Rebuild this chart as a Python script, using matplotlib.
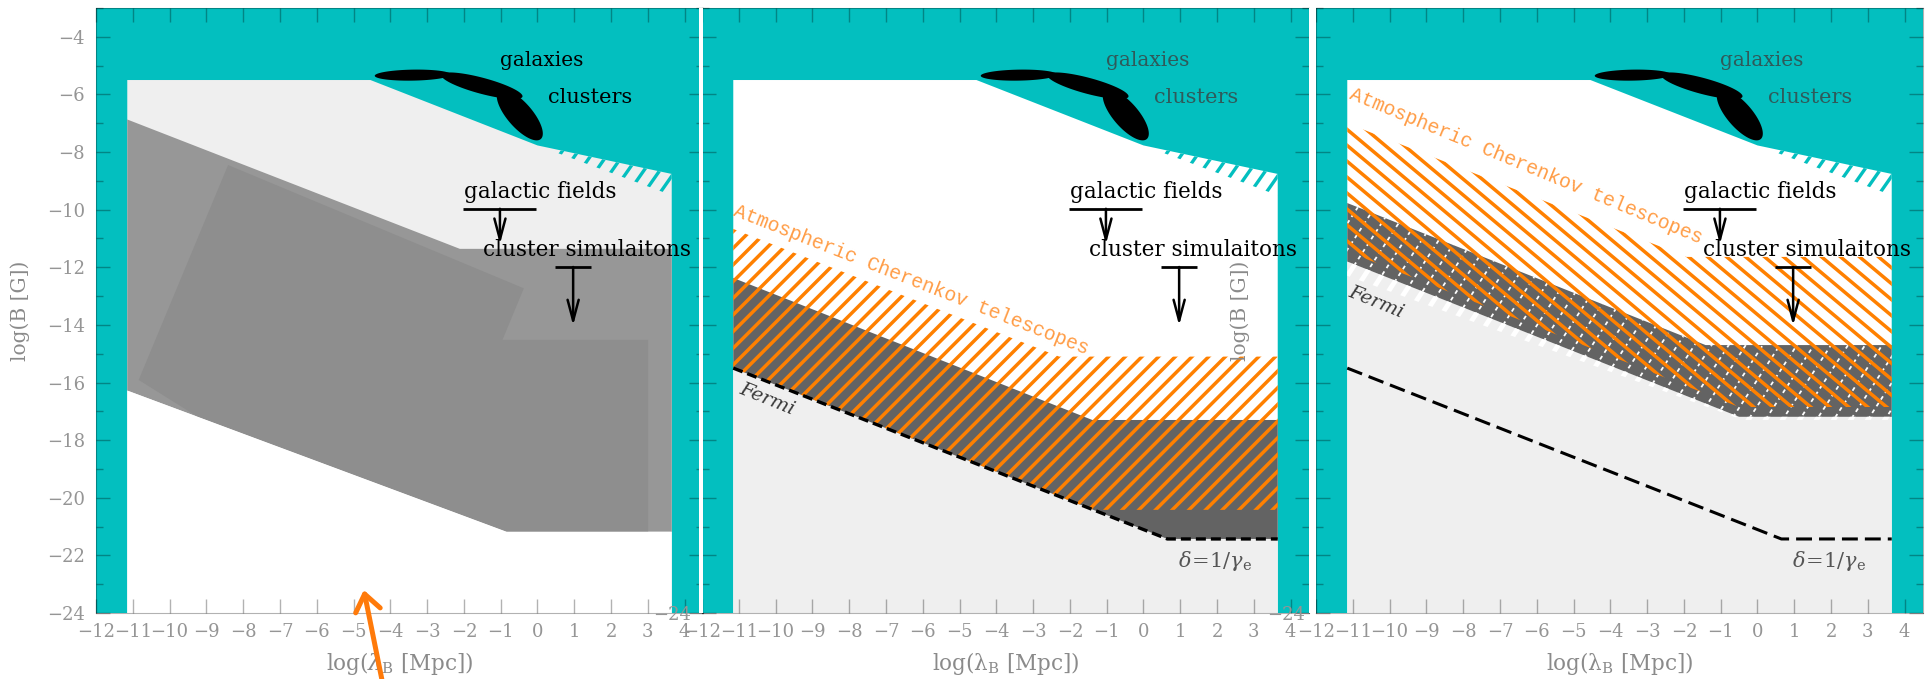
import numpy as np
import matplotlib
matplotlib.use("Agg")
import matplotlib.pyplot as plt
from matplotlib.patches import Polygon, Rectangle
from matplotlib.collections import LineCollection
from matplotlib.ticker import MultipleLocator, FuncFormatter

plt.rcParams['font.family'] = 'DejaVu Serif'
plt.rcParams['mathtext.fontset'] = 'dejavuserif'

# colours
TEAL = '#03bfbf'
LIGHT = '#efefef'
DARK = '#636363'
ORANGE = '#ff8000'
ORANGE_TXT = '#ff9c45'
TICK = (0, 0, 0, 0.3)

# axes ranges: log(lambda_B [Mpc]) vs log(B [G])
XLIM = (-12, 4.5)
YLIM = (-24, -3)

# figure geometry in pixels
FIG_W, FIG_H = 1925, 679
AX_TOP, AX_BOT = 8, 613
AX_W = 607
PANEL_X0 = [96, 702, 1316]
SX = AX_W / (XLIM[1] - XLIM[0])
SY = (AX_BOT - AX_TOP) / (YLIM[1] - YLIM[0])

# ---- shared outline (allowed region, teal = excluded) ----
inner_x = [-11.15, -4.54, 0.0, 3.65, 3.65, -11.15]
inner_y = [-5.5, -5.5, -7.77, -8.76, -24.0, -24.0]
teal_hatch_x = [0.37, 3.65, 3.65, 0.37]
teal_hatch_y = [-7.87, -8.76, -9.5, -7.95]

# black blobs (galaxies / clusters)
blob_cx = [-3.39, -1.51, -0.48]
blob_cy = [-5.33, -5.70, -6.71]
blob_len = [76, 84, 64]
blob_wid = [11, 16, 25]
blob_ang = [1, -15, -49]

# upper limits
gal_line_x = [-2.02, -0.05]
gal_line_y = [-9.97, -9.97]
gal_arrow = (-1.02, -9.97, -11.2)
clu_line_x = [0.47, 1.46]
clu_line_y = [-11.99, -11.99]
clu_arrow = (0.97, -11.99, -14.02)

# ---- left panel ----
grey_x = [-11.15, -2.11, 3.65, 3.65, -0.84, -11.15]
grey_y = [-6.87, -11.36, -11.36, -21.18, -21.18, -16.28]
shade_x = [-8.41, -0.37, -0.95, 3.01, 3.01, -0.84, -9.25, -10.84]
shade_y = [-8.45, -12.73, -14.52, -14.52, -21.18, -21.18, -17.18, -15.91]
below_x = [-11.15, -0.84, 3.65, 3.65, -11.15]
below_y = [-16.28, -21.18, -21.18, -24.0, -24.0]
pointer_tip = (-4.72, -23.2)
pointer_tail = (-4.23, -26.3)

# ---- middle panel ----
fermi_x = [-11.15, 0.65, 3.65]
fermi_y = [-15.5, -21.43, -21.43]
band_top_x = [-11.15, -1.39, 3.65]
band_top_y = [-12.37, -17.3, -17.3]
act_top_x = [-11.15, -2.29, 3.65]
act_top_y = [-10.67, -15.1, -15.1]
act_bot_x = [3.65, -1.37, -11.15]
act_bot_y = [-20.42, -20.42, -15.5]

# ---- right panel ----
band2_top_x = [-11.15, -1.41, 3.65]
band2_top_y = [-9.77, -14.7, -14.7]
band2_bot_x = [3.65, -0.5, -11.15]
band2_bot_y = [-17.19, -17.19, -11.8]
strip_bot_x = [3.65, -0.4, -11.15]
strip_bot_y = [-17.3, -17.3, -12.3]
act2_top_x = [-11.15, -1.93, 3.65]
act2_top_y = [-7.0, -11.64, -11.64]
act2_bot_x = [3.65, -0.5, -11.15]
act2_bot_y = [-16.85, -16.85, -11.45]


def poly(ax, xs, ys, color, z=1):
    p = Polygon(np.column_stack([xs, ys]), closed=True, fc=color, ec='none', lw=0, zorder=z)
    ax.add_patch(p)
    return p


def hatch(ax, xs, ys, angle, gap, color, lw, dashes=None, z=3):
    clip = Polygon(np.column_stack([xs, ys]), closed=True, fc='none', ec='none', lw=0)
    ax.add_patch(clip)
    px = (np.asarray(xs) - XLIM[0]) * SX
    py = (np.asarray(ys) - YLIM[0]) * SY
    a = np.radians(angle)
    d = np.array([np.cos(a), np.sin(a)])
    n = np.array([-np.sin(a), np.cos(a)])
    pn = px * n[0] + py * n[1]
    pd = px * d[0] + py * d[1]
    segs = []
    for o in np.arange(np.floor(pn.min() / gap) * gap, pn.max() + gap, gap):
        p0 = o * n + pd.min() * d
        p1 = o * n + pd.max() * d
        segs.append([(p0[0] / SX + XLIM[0], p0[1] / SY + YLIM[0]),
                     (p1[0] / SX + XLIM[0], p1[1] / SY + YLIM[0])])
    lc = LineCollection(segs, colors=color, linewidths=lw, zorder=z, capstyle='butt')
    if dashes:
        lc.set_linestyle((0, dashes))
    ax.add_collection(lc, autolim=False)
    lc.set_clip_path(clip)


def blob(ax, cx, cy, length, width, ang):
    t = np.linspace(0, 2 * np.pi, 120)
    a = np.radians(ang)
    u = length / 2 * np.cos(t)
    v = width / 2 * np.sin(t)
    dx = u * np.cos(a) - v * np.sin(a)
    dy = u * np.sin(a) + v * np.cos(a)
    ax.fill(cx + dx / SX, cy + dy / SY, color='black', lw=0, zorder=6)


def frame(ax, inner_color, label_color):
    ax.set_facecolor(TEAL)
    poly(ax, inner_x, inner_y, inner_color, z=0.5)
    hatch(ax, teal_hatch_x, teal_hatch_y, 55, 13, TEAL, 2.4, z=2)
    for cx, cy, L, W, A in zip(blob_cx, blob_cy, blob_len, blob_wid, blob_ang):
        blob(ax, cx, cy, L, W, A)
    ax.text(-1.02, -4.82, 'galaxies', fontsize=14.5, color=label_color, va='center', zorder=7)
    ax.text(0.28, -6.12, 'clusters', fontsize=15, color=label_color, va='center', zorder=7)
    ax.text(-2.0, -9.4, 'galactic fields', fontsize=15.5, color='black', va='center', zorder=7)
    ax.text(-1.48, -11.4, 'cluster simulaitons', fontsize=15.5, color='black', va='center',
            zorder=7)
    ax.plot(gal_line_x, gal_line_y, color='black', lw=2, zorder=7, solid_capstyle='butt')
    ax.plot(clu_line_x, clu_line_y, color='black', lw=2, zorder=7, solid_capstyle='butt')
    for x0, y0, y1 in (gal_arrow, clu_arrow):
        ax.annotate('', xy=(x0, y1), xytext=(x0, y0), zorder=7,
                    arrowprops=dict(arrowstyle='->,head_length=0.75,head_width=0.2',
                                    mutation_scale=20, lw=1.8, color='black',
                                    shrinkA=0, shrinkB=0))


def style(ax, show_all_y, xlabel, ylabel):
    ax.set_xlim(XLIM)
    ax.set_ylim(YLIM)
    ax.set_xticks(range(-12, 5))
    ax.yaxis.set_major_locator(MultipleLocator(2))
    ax.yaxis.set_minor_locator(MultipleLocator(1))
    ax.tick_params(which='both', direction='in', top=True, right=True, color=TICK,
                   labelcolor='#959595', labelsize=13, width=1)
    ax.tick_params(which='major', length=10)
    ax.tick_params(which='minor', length=5)
    ax.tick_params(axis='x', pad=7)
    ax.tick_params(axis='y', pad=8)
    if not show_all_y:
        ax.yaxis.set_major_formatter(FuncFormatter(
            lambda v, p: '\u221224' if abs(v + 24) < 1e-6 else ''))
    for s in ax.spines.values():
        s.set_color(TICK)
        s.set_linewidth(0.8)
    ax.set_xlabel(xlabel, fontsize=15.5, color='#8a8a8a', labelpad=7)
    if ylabel:
        ax.set_ylabel(ylabel, fontsize=14.5, color='#8a8a8a', labelpad=12)


fig = plt.figure(figsize=(FIG_W / 100, FIG_H / 100), dpi=100)
axes = []
for i, x0 in enumerate(PANEL_X0):
    ax = fig.add_axes([x0 / FIG_W, 1 - AX_BOT / FIG_H, AX_W / FIG_W, (AX_BOT - AX_TOP) / FIG_H])
    ax.set_zorder(i + 1)
    axes.append(ax)
ax1, ax2, ax3 = axes

# ---- left panel: excluded parameter space ----
frame(ax1, LIGHT, 'black')
poly(ax1, grey_x, grey_y, '#979797', z=1)
poly(ax1, shade_x, shade_y, '#8e8e8e', z=1.1)
poly(ax1, below_x, below_y, 'white', z=1.2)
ax1.annotate('', xy=pointer_tip, xytext=pointer_tail, annotation_clip=False, zorder=10,
             arrowprops=dict(arrowstyle='->,head_length=0.6,head_width=0.45',
                             mutation_scale=20, lw=3.6, color='#ff7a0a',
                             shrinkA=0, shrinkB=0))
style(ax1, True, r'log($\lambda_{\rm B}$ [Mpc])', 'log(B [G])')

# ---- middle panel ----
frame(ax2, 'white', '#2f5a5a')
poly(ax2, fermi_x + [3.65, -11.15], fermi_y + [-24, -24], LIGHT, z=1)
poly(ax2, band_top_x + fermi_x[::-1], band_top_y + fermi_y[::-1], DARK, z=1.1)
hatch(ax2, act_top_x + act_bot_x, act_top_y + act_bot_y, 45, 11.8, ORANGE, 2.5, z=3)
ax2.plot(fermi_x, fermi_y, color='black', lw=2.4, dashes=(3.0, 1.5), zorder=4)
ax2.text(-6.3, -12.44, 'Atmospheric Cherenkov telescopes', fontsize=14.2,
         family='Liberation Mono', color=ORANGE_TXT,
         rotation=-21.5, rotation_mode='anchor', ha='center', va='center', zorder=7)
ax2.text(-10.24, -16.57, 'Fermi', fontsize=14, style='italic', color='#3a3a3a',
         rotation=-22, rotation_mode='anchor', ha='center', va='center', zorder=7)
ax2.text(1.95, -22.2, r'$\delta\!=\!1/\gamma_{\rm e}$', fontsize=15, color='#555555',
         ha='center', va='center', zorder=7)
style(ax2, False, r'log(λ$_{\rm B}$ [Mpc])', None)

# ---- right panel ----
frame(ax3, 'white', '#2f5a5a')
poly(ax3, band2_bot_x[::-1] + [3.65, -11.15], band2_bot_y[::-1] + [-24, -24], LIGHT, z=1)
poly(ax3, band2_top_x + band2_bot_x, band2_top_y + band2_bot_y, DARK, z=1.1)
hatch(ax3, band2_top_x + band2_bot_x, band2_top_y + band2_bot_y, 57, 14.3, 'white', 1.3,
      dashes=(2.2, 2.2), z=2.5)
hatch(ax3, band2_bot_x[::-1] + strip_bot_x, band2_bot_y[::-1] + strip_bot_y, 57, 14.3,
      'white', 3.5, z=2.5)
hatch(ax3, act2_top_x + act2_bot_x, act2_top_y + act2_bot_y, -40, 12.2, ORANGE, 2.5, z=3)
ax3.plot(fermi_x, fermi_y, color='black', lw=2.2, dashes=(5.2, 2.3), zorder=4)
ax3.text(-6.29, -8.48, 'Atmospheric Cherenkov telescopes', fontsize=14.2,
         family='Liberation Mono', color=ORANGE_TXT,
         rotation=-22.5, rotation_mode='anchor', ha='center', va='center', zorder=7)
ax3.text(-10.36, -13.2, 'Fermi', fontsize=14, style='italic', color='#3a3a3a',
         rotation=-22, rotation_mode='anchor', ha='center', va='center', zorder=7)
ax3.text(1.95, -22.2, r'$\delta\!=\!1/\gamma_{\rm e}$', fontsize=15, color='#555555',
         ha='center', va='center', zorder=7)
style(ax3, False, r'log(λ$_{\rm B}$ [Mpc])', 'log(B [G])')

# white borders between the pasted panels
for xa, xb in ((698.5, 702.5), (1308.5, 1316)):
    fig.add_artist(Rectangle((xa / FIG_W, 1 - AX_BOT / FIG_H), (xb - xa) / FIG_W,
                             (AX_BOT - AX_TOP) / FIG_H, transform=fig.transFigure,
                             fc='white', ec='none', zorder=20))

fig.savefig('out.png', dpi=100)
